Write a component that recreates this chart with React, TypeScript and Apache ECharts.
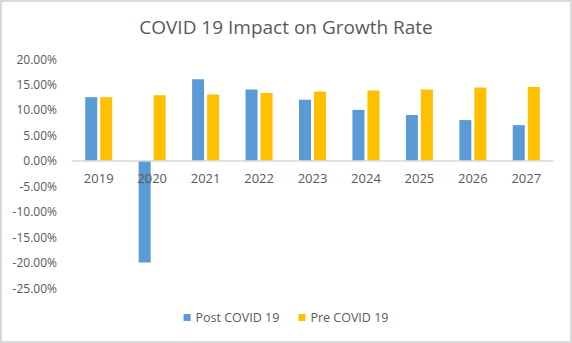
import React, { useEffect, useRef } from "react";
import * as echarts from "echarts";

const years = ["2019", "2020", "2021", "2022", "2023", "2024", "2025", "2026", "2027"];
const postCovid = [12.5, -20, 16, 14, 12, 10, 9, 8, 7];
const preCovid = [12.5, 12.9, 13, 13.3, 13.6, 13.8, 14, 14.4, 14.5];

const FONT = "Open Sans";
const TXT = "#595959";

export default function App() {
  const ref = useRef<HTMLDivElement>(null);
  useEffect(() => {
    document.body.style.margin = "0";
    const chart = echarts.init(ref.current!, null, { renderer: "svg" });
    chart.setOption({
      animation: false,
      title: {
        text: "COVID 19 Impact on Growth Rate",
        left: "center",
        top: 12,
        textStyle: { fontFamily: FONT, fontSize: 19, fontWeight: "normal", color: TXT },
      },
      grid: { left: 72, right: 19, top: 59, bottom: 55 },
      legend: {
        bottom: 14,
        left: "center",
        itemWidth: 7,
        itemHeight: 7,
        itemGap: 19,
        icon: "rect",
        textStyle: { fontFamily: FONT, fontSize: 12.5, color: TXT },
        data: ["Post COVID 19", "Pre COVID 19"],
      },
      xAxis: {
        type: "category",
        data: years,
        offset: -127.2,
        axisLine: { onZero: false, lineStyle: { color: "#d9d9d9", width: 1.5 } },
        axisTick: { show: false },
        axisLabel: { fontFamily: FONT, fontSize: 13, color: TXT, margin: 11 },
        z: 5,
      },
      yAxis: {
        type: "value",
        min: -25,
        max: 20,
        interval: 5,
        axisLine: { show: false },
        axisTick: { show: false },
        splitLine: { show: false },
        axisLabel: {
          fontFamily: FONT,
          fontSize: 12,
          color: TXT,
          margin: 15,
          formatter: (v: number) => v.toFixed(2) + "%",
        },
      },
      series: [
        {
          name: "Post COVID 19",
          type: "bar",
          data: postCovid,
          barWidth: 12,
          barGap: "25%",
          itemStyle: { color: "#5b9bd5" },
          z: 2,
        },
        {
          name: "Pre COVID 19",
          type: "bar",
          data: preCovid,
          barWidth: 12,
          barGap: "25%",
          itemStyle: { color: "#ffc000" },
          z: 2,
        },
      ],
    });
    return () => chart.dispose();
  }, []);
  return (
    <div
      style={{
        width: 572,
        height: 343,
        boxSizing: "border-box",
        border: "2px solid #d9d9d9",
        position: "relative",
        background: "#fff",
      }}
    >
      <div ref={ref} style={{ position: "absolute", left: -2, top: -2, width: 572, height: 343 }} />
    </div>
  );
}
